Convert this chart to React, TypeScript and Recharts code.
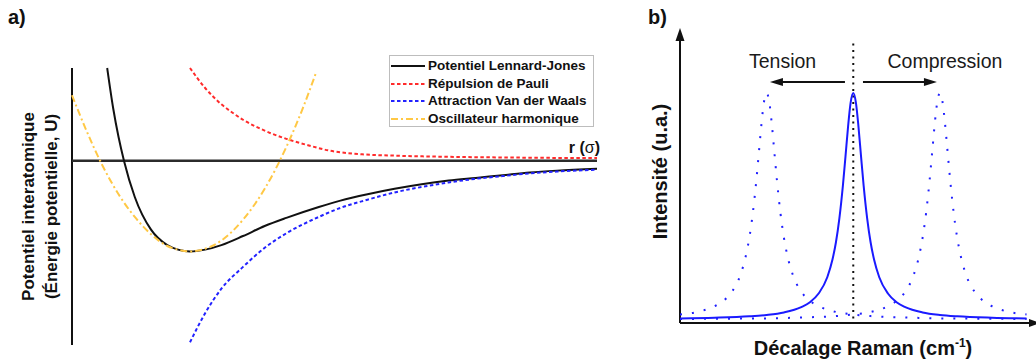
import React from "react";
import {
  LineChart, Line, XAxis, YAxis, ReferenceLine, ReferenceDot, Legend,
} from "recharts";

// ─────────────────────────────────────────────────────────────────────────────
// Panel a — interatomic potential (r in σ, U in ε)
// ─────────────────────────────────────────────────────────────────────────────

const ljR   = [0.969, 0.98, 0.99, 1.0, 1.02, 1.05, 1.08, 1.1, 1.122, 1.15, 1.18, 1.22, 1.26, 1.3, 1.36, 1.4, 1.45, 1.5, 1.55, 1.6, 1.65, 1.7, 1.75, 1.8, 1.874];
const ljU   = [1.02, 0.58, 0.26, 0, -0.4, -0.76, -0.93, -0.98, -1.0, -0.98, -0.93, -0.83, -0.72, -0.63, -0.51, -0.44, -0.37, -0.31, -0.26, -0.22, -0.19, -0.16, -0.13, -0.11, -0.09];

const pauliR = [1.122, 1.15, 1.18, 1.2, 1.22, 1.26, 1.3, 1.34, 1.38, 1.44, 1.5, 1.6, 1.7, 1.8, 1.874];
const pauliU = [1.02, 0.8, 0.62, 0.53, 0.45, 0.33, 0.24, 0.17, 0.11, 0.07, 0.055, 0.042, 0.035, 0.03, 0.028];

const vdwR = [1.122, 1.15, 1.18, 1.22, 1.26, 1.3, 1.36, 1.4, 1.45, 1.5, 1.55, 1.6, 1.65, 1.7, 1.75, 1.8, 1.874];
const vdwU = [-2.0, -1.68, -1.41, -1.17, -0.96, -0.8, -0.62, -0.52, -0.43, -0.35, -0.29, -0.24, -0.2, -0.17, -0.14, -0.12, -0.1];

const harmR = [0.904, 0.93, 0.96, 0.99, 1.02, 1.05, 1.08, 1.1, 1.122, 1.15, 1.18, 1.22, 1.26, 1.3, 1.33, 1.355];
const harmU = [0.72, 0.34, -0.05, -0.37, -0.62, -0.81, -0.94, -0.98, -1.0, -0.97, -0.88, -0.65, -0.31, 0.15, 0.57, 0.97];

const legendOrder = ["Potentiel Lennard-Jones", "Répulsion de Pauli", "Attraction Van der Waals", "Oscillateur harmonique"];

// ─────────────────────────────────────────────────────────────────────────────
// Panel b — Raman peak shift (x in cm⁻¹, intensity in a.u.)
// ─────────────────────────────────────────────────────────────────────────────

const refX = [510, 512, 514, 515, 516, 517, 517.5, 518, 518.5, 518.8, 519, 519.2, 519.4, 519.55, 519.7, 519.85, 520, 520.15, 520.3, 520.45, 520.6, 520.8, 521, 521.2, 521.5, 522, 522.5, 523, 524, 525, 526, 528, 530];
const refI = [0.02, 0.023, 0.029, 0.035, 0.046, 0.069, 0.09, 0.128, 0.199, 0.276, 0.351, 0.456, 0.596, 0.723, 0.854, 0.959, 1.0, 0.959, 0.854, 0.723, 0.596, 0.456, 0.351, 0.276, 0.199, 0.128, 0.09, 0.069, 0.046, 0.035, 0.029, 0.023, 0.02];

const tensionX = [510, 511, 512, 512.5, 513, 513.5, 513.8, 514, 514.2, 514.4, 514.55, 514.7, 514.85, 515, 515.15, 515.3, 515.45, 515.6, 515.8, 516, 516.2, 516.5, 517, 517.5, 518, 519, 520, 521, 523, 525, 527, 530];
const tensionI = [0.037, 0.048, 0.073, 0.096, 0.136, 0.212, 0.292, 0.37, 0.476, 0.616, 0.739, 0.864, 0.962, 1.0, 0.962, 0.864, 0.739, 0.616, 0.476, 0.37, 0.292, 0.212, 0.136, 0.096, 0.073, 0.048, 0.037, 0.03, 0.024, 0.02, 0.019, 0.017];

const compX = [510, 513, 515, 517, 519, 520, 521, 522, 522.5, 523, 523.5, 523.8, 524, 524.2, 524.4, 524.55, 524.7, 524.85, 525, 525.15, 525.3, 525.45, 525.6, 525.8, 526, 526.2, 526.5, 527, 527.5, 528, 529, 530];
const compI = [0.017, 0.019, 0.02, 0.024, 0.03, 0.037, 0.048, 0.073, 0.096, 0.136, 0.212, 0.292, 0.37, 0.476, 0.616, 0.739, 0.864, 0.962, 1.0, 0.962, 0.864, 0.739, 0.616, 0.476, 0.37, 0.292, 0.212, 0.136, 0.096, 0.073, 0.048, 0.037];

// ─────────────────────────────────────────────────────────────────────────────
// Helpers
// ─────────────────────────────────────────────────────────────────────────────

const FONT = '"Liberation Sans", Arial, Helvetica, sans-serif';

const pts = (xs: number[], ys: number[]) => xs.map((x, i) => ({ x, y: ys[i] }));

const DASH: Record<string, string | undefined> = {
  "Potentiel Lennard-Jones": undefined,
  "Répulsion de Pauli": "3.5 2.5",
  "Attraction Van der Waals": "3.5 2.5",
  "Oscillateur harmonique": "7 3 2 3",
};

function PotentialLegend({ payload }: any) {
  const items = [...(payload ?? [])].sort(
    (a: any, b: any) => legendOrder.indexOf(a.value) - legendOrder.indexOf(b.value));
  return (
    <div style={{
      border: "1px solid #bdbdbd", background: "#fff", boxSizing: "border-box",
      width: 205, height: 72, paddingTop: 1,
    }}>
      {items.map((e: any) => (
        <div key={e.value} style={{ display: "flex", alignItems: "center", height: 17.8 }}>
          <svg width={38} height={10} style={{ display: "block" }}>
            <line x1={1} y1={5} x2={35} y2={5} stroke={e.color} strokeWidth={2}
              strokeDasharray={DASH[e.value]} />
          </svg>
          <span style={{ font: `bold 13.5px ${FONT}`, color: "#111", whiteSpace: "nowrap", lineHeight: "14px" }}>
            {e.value}
          </span>
        </div>
      ))}
    </div>
  );
}

// ─────────────────────────────────────────────────────────────────────────────
// Panel a chart
// ─────────────────────────────────────────────────────────────────────────────

const R_MIN = 0.904, R_MAX = 1.874, U_MIN = -2.03, U_MAX = 1.02;

function PotentialChart() {
  return (
    <LineChart width={640} height={364} margin={{ top: 68, right: 43, bottom: 19, left: 72 }}>
      <XAxis type="number" dataKey="x" domain={[R_MIN, R_MAX]} hide />
      <YAxis type="number" domain={[U_MIN, U_MAX]} hide />

      {/* energy axis + its title */}
      <ReferenceLine
        segment={[{ x: R_MIN, y: U_MIN }, { x: R_MIN, y: U_MAX }]}
        stroke="#111" strokeWidth={2}
        label={(p: any) => {
          const vb = p.viewBox ?? { x: 72, y: 68, height: 277 };
          const cy = vb.y + vb.height / 2;
          const x1 = vb.x - 43.5, x2 = vb.x - 20.5;
          const st = { fontFamily: FONT, fontWeight: 700, fontSize: 17, fill: "#111" };
          return (
            <g>
              <text {...st} x={x1} y={cy} textAnchor="middle" dominantBaseline="central"
                transform={`rotate(-90 ${x1} ${cy})`}>Potentiel interatomique</text>
              <text {...st} x={x2} y={cy} textAnchor="middle" dominantBaseline="central"
                transform={`rotate(-90 ${x2} ${cy})`}>(Énergie potentielle, U)</text>
            </g>
          );
        }}
      />

      <ReferenceLine
        y={0} stroke="#2b2b2b" strokeWidth={2.5}
        label={(p: any) => {
          const vb = p.viewBox ?? { x: 72, y: 161, width: 525 };
          return (
            <text x={vb.x + vb.width + 3} y={vb.y - 8} textAnchor="end"
              fontFamily={FONT} fontSize={16} fill="#111">
              <tspan fontWeight={700}>r (</tspan>
              <tspan>σ</tspan>
              <tspan fontWeight={700}>)</tspan>
            </text>
          );
        }}
      />

      <Legend
        content={<PotentialLegend />}
        layout="vertical" align="center" verticalAlign="middle"
        wrapperStyle={{ left: 389, top: 55, width: 205, height: 72 }}
      />

      <Line data={pts(ljR, ljU)} dataKey="y" name="Potentiel Lennard-Jones" type="monotone"
        stroke="#111" strokeWidth={2} dot={false} isAnimationActive={false} />
      <Line data={pts(pauliR, pauliU)} dataKey="y" name="Répulsion de Pauli" type="monotone"
        stroke="#ff2b2b" strokeWidth={2} strokeDasharray="3.5 2.5" dot={false} isAnimationActive={false} />
      <Line data={pts(vdwR, vdwU)} dataKey="y" name="Attraction Van der Waals" type="monotone"
        stroke="#2222ff" strokeWidth={2} strokeDasharray="3.5 2.5" dot={false} isAnimationActive={false} />
      <Line data={pts(harmR, harmU)} dataKey="y" name="Oscillateur harmonique" type="monotone"
        stroke="#ffc845" strokeWidth={2} strokeDasharray="7 3 2 3" dot={false} isAnimationActive={false} />
    </LineChart>
  );
}

// ─────────────────────────────────────────────────────────────────────────────
// Panel b chart
// ─────────────────────────────────────────────────────────────────────────────

const X_MIN = 510, X_MAX = 530.2, I_MAX = 1.265;

const tri = (points: string) => (p: any) =>
  <polygon points={points.split(" ").map((pr) => {
    const [dx, dy] = pr.split(",").map(Number);
    return `${p.cx + dx},${p.cy + dy}`;
  }).join(" ")} fill="#111" />;

const word = (s: string) => (p: any) =>
  <text x={p.cx} y={p.cy} textAnchor="middle" fontFamily={FONT} fontSize={19.5} fill="#1a1a1a">{s}</text>;

function RamanChart() {
  return (
    <LineChart width={396} height={364} margin={{ top: 32, right: 6, bottom: 41, left: 40 }}>
      <XAxis type="number" dataKey="x" domain={[X_MIN, X_MAX]} hide />
      <YAxis type="number" domain={[0, I_MAX]} hide />

      {/* axes with arrowheads */}
      <ReferenceLine
        segment={[{ x: X_MIN, y: 0 }, { x: X_MAX, y: 0 }]}
        stroke="#111" strokeWidth={2}
        label={(p: any) => {
          const vb = p.viewBox ?? { x: 680, y: 323, width: 350 };
          return (
            <text x={vb.x + vb.width / 2 + 8} y={vb.y + 32} textAnchor="middle"
              fontFamily={FONT} fontWeight={700} fontSize={20} fill="#111">
              Décalage Raman (cm<tspan fontSize={12} dy={-8}>-1</tspan><tspan dy={8}>)</tspan>
            </text>
          );
        }}
      />
      <ReferenceLine
        segment={[{ x: X_MIN, y: 0 }, { x: X_MIN, y: I_MAX }]}
        stroke="#111" strokeWidth={2}
        label={(p: any) => {
          const vb = p.viewBox ?? { x: 680, y: 32, height: 291 };
          const x = vb.x - 20, cy = vb.y + vb.height / 2 - 6;
          return (
            <text x={x} y={cy} textAnchor="middle" dominantBaseline="central"
              transform={`rotate(-90 ${x} ${cy})`}
              fontFamily={FONT} fontWeight={700} fontSize={20} fill="#111">
              Intensité (u.a.)
            </text>
          );
        }}
      />
      <ReferenceDot x={X_MIN} y={I_MAX} shape={tri("0,-4 -4.5,9 4.5,9")} />
      <ReferenceDot x={X_MAX} y={0} shape={tri("10,0 -1,-4 -1,4")} />

      {/* unstrained position */}
      <ReferenceLine segment={[{ x: 520, y: 0.02 }, { x: 520, y: 1.222 }]}
        stroke="#111" strokeWidth={2} strokeDasharray="2 4.5" />

      {/* shift arrows */}
      <ReferenceLine segment={[{ x: 519.52, y: 1.048 }, { x: 515.6, y: 1.048 }]} stroke="#111" strokeWidth={2} />
      <ReferenceDot x={515.19} y={1.048} shape={tri("0,0 13,-4 13,4")} />
      <ReferenceLine segment={[{ x: 520.56, y: 1.048 }, { x: 524.4, y: 1.048 }]} stroke="#111" strokeWidth={2} />
      <ReferenceDot x={524.83} y={1.048} shape={tri("0,0 -13,-4 -13,4")} />

      <ReferenceDot x={515.92} y={1.11} shape={word("Tension")} />
      <ReferenceDot x={525.29} y={1.11} shape={word("Compression")} />

      <Line data={pts(tensionX, tensionI)} dataKey="y" type="monotone"
        stroke="#2020ff" strokeWidth={2} strokeDasharray="2 10" dot={false} isAnimationActive={false} />
      <Line data={pts(compX, compI)} dataKey="y" type="monotone"
        stroke="#2020ff" strokeWidth={2} strokeDasharray="2 10" dot={false} isAnimationActive={false} />
      <Line data={pts(refX, refI)} dataKey="y" type="monotone"
        stroke="#1a1aff" strokeWidth={2} dot={false} isAnimationActive={false} />
    </LineChart>
  );
}

export default function App() {
  return (
    <div style={{ position: "absolute", left: 0, top: 0, width: 1036, height: 364, background: "#fff", overflow: "hidden" }}>
      <div style={{ position: "absolute", left: 8, top: 6, font: `bold 20px ${FONT}`, color: "#111" }}>a)</div>
      <div style={{ position: "absolute", left: 648, top: 6, font: `bold 20px ${FONT}`, color: "#111" }}>b)</div>
      <div style={{ position: "absolute", left: 0, top: 0 }}>
        <PotentialChart />
      </div>
      <div style={{ position: "absolute", left: 640, top: 0 }}>
        <RamanChart />
      </div>
    </div>
  );
}
